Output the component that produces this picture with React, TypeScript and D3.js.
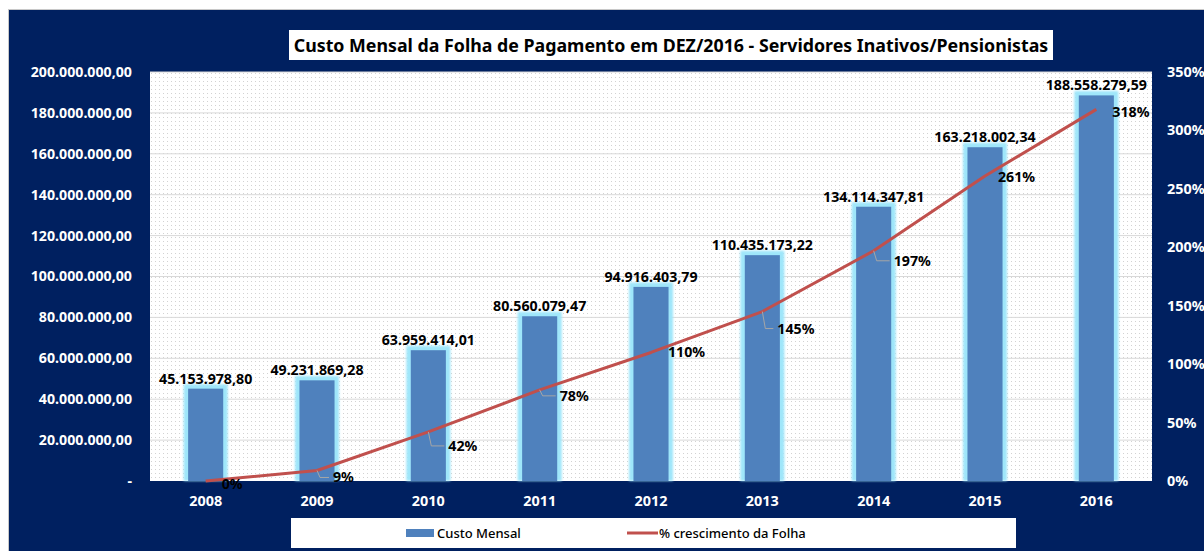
import React from "react";
import * as d3 from "d3";

const years = ["2008", "2009", "2010", "2011", "2012", "2013", "2014", "2015", "2016"];
const custoMensal = [
  45153978.8, 49231869.28, 63959414.01, 80560079.47, 94916403.79,
  110435173.22, 134114347.81, 163218002.34, 188558279.59,
];
const crescimento = [0, 0.09, 0.42, 0.78, 1.1, 1.45, 1.97, 2.61, 3.18];
const leftTicks = [0, 20e6, 40e6, 60e6, 80e6, 100e6, 120e6, 140e6, 160e6, 180e6, 200e6];
const rightTicks = [0, 0.5, 1, 1.5, 2, 2.5, 3, 3.5];
const title = "Custo Mensal da Folha de Pagamento em DEZ/2016 - Servidores Inativos/Pensionistas";
const legendBar = "Custo Mensal";
const legendLine = "% crescimento da Folha";

// label placement nudges (layout only)
const pctLabelNudge: [number, number, boolean][] = [
  [16, 3, false], [16, 7, true], [20, 14, true], [20, 6, true], [17, 0, false],
  [15, 17, true], [20, 10, true], [13, 1, false], [16, 3, false],
];

const NAVY = "#002060";
const FONT = "'Noto Sans', 'Open Sans', sans-serif";

const ptBR = d3.formatLocale({ decimal: ",", thousands: ".", grouping: [3], currency: ["R$", ""] });
const fmtMoney = ptBR.format(",.2f");
const fmtPct = d3.format(".0%");

export default function App() {
  const left = 150, right = 1152, top = 72, bottom = 481;
  const x = d3.scaleBand<string>().domain(years).range([left, right]).padding(0);
  const cx = (y: string) => (x(y) as number) + x.bandwidth() / 2;
  const barW = x.bandwidth() * 0.315;
  const yL = d3.scaleLinear().domain([0, 200e6]).range([bottom, top]);
  const yR = d3.scaleLinear().domain([0, 3.5]).range([bottom, top]);
  const line = d3
    .line<number>()
    .x((_, i) => cx(years[i]))
    .y((d) => yR(d))
    .curve(d3.curveLinear);

  return (
    <svg
      width={1204}
      height={551}
      style={{ position: "absolute", left: 0, top: 0, display: "block" }}
      fontFamily={FONT}
    >
      <defs>
        <pattern id="dots" width={4} height={4} patternUnits="userSpaceOnUse" x={left} y={top}>
          <rect width={4} height={4} fill="#ffffff" />
          <rect x={1} y={1} width={1} height={1} fill="#d2d2d2" />
        </pattern>
        <filter id="glow" x="-50%" y="-50%" width="200%" height="200%">
          <feGaussianBlur stdDeviation={1.2} />
        </filter>
      </defs>
      <rect x={0} y={0} width={1204} height={551} fill="#ffffff" />
      <rect x={8.5} y={9.5} width={1200} height={545} fill={NAVY} stroke="#c8c8c8" strokeWidth={1} />

      {/* title */}
      <rect x={289} y={30} width={764} height={30} fill="#ffffff" />
      <text x={671} y={52} textAnchor="middle" fontSize={17.8} fontWeight="bold" fill="#000">
        {title}
      </text>

      {/* plot area */}
      <rect x={left} y={top} width={right - left} height={bottom - top} fill="url(#dots)" />
      {leftTicks.slice(1).map((t) => (
        <line key={t} x1={left} x2={right} y1={yL(t)} y2={yL(t)} stroke="#d9d9d9" strokeWidth={1} />
      ))}

      {/* left axis labels */}
      {leftTicks.map((t) => (
        <text key={t} x={132} y={yL(t)} dy="0.35em" textAnchor="end" fontSize={14.2} fontWeight="bold" fill="#ffffff">
          {t === 0 ? "-" : fmtMoney(t)}
        </text>
      ))}
      {/* right axis labels */}
      {rightTicks.map((t) => (
        <text key={t} x={1167} y={yR(t)} dy="0.35em" textAnchor="start" fontSize={14.4} fontWeight="bold" fill="#ffffff">
          {fmtPct(t)}
        </text>
      ))}
      {/* x labels */}
      {years.map((yr) => (
        <text key={yr} x={cx(yr)} y={506} textAnchor="middle" fontSize={14.4} fontWeight="bold" fill="#ffffff">
          {yr}
        </text>
      ))}

      {/* bars */}
      {years.map((yr, i) => {
        const y0 = yL(custoMensal[i]);
        return (
          <g key={yr}>
            <rect
              x={cx(yr) - barW / 2 - 4.5}
              y={y0 - 4.5}
              width={barW + 9}
              height={bottom - y0 + 4.5}
              fill="#9fe6fa"
              filter="url(#glow)"
            />
            <rect x={cx(yr) - barW / 2} y={y0} width={barW} height={bottom - y0} fill="#4f81bd" />
          </g>
        );
      })}

      {/* bar labels */}
      {years.map((yr, i) => (
        <text key={yr} x={cx(yr)} y={yL(custoMensal[i]) - 5} textAnchor="middle" fontSize={14.2} fontWeight="bold" fill="#000">
          {fmtMoney(custoMensal[i])}
        </text>
      ))}

      {/* line */}
      <path d={line(crescimento) || ""} fill="none" stroke="#c0504d" strokeWidth={3} strokeLinejoin="round" />

      {/* pct labels + leaders */}
      {years.map((yr, i) => {
        const px = cx(yr), py = yR(crescimento[i]);
        const [dx, dy, leader] = pctLabelNudge[i];
        return (
          <g key={yr}>
            {leader && (
              <polyline
                points={`${px},${py} ${px + 3},${py + dy} ${px + dx - 4},${py + dy}`}
                fill="none"
                stroke="#a6a6a6"
                strokeWidth={1}
              />
            )}
            <text x={px + dx} y={py + dy} dy="0.35em" fontSize={14.2} fontWeight="bold" fill="#000">
              {fmtPct(crescimento[i])}
            </text>
          </g>
        );
      })}

      {/* legend */}
      <rect x={291} y={518} width={725} height={30} fill="#ffffff" />
      <rect x={406} y={529} width={28} height={8} fill="#4f81bd" />
      <text x={437} y={533} dy="0.35em" fontSize={13} fontWeight="500" fill="#000">
        {legendBar}
      </text>
      <line x1={627} x2={658} y1={533} y2={533} stroke="#c0504d" strokeWidth={3} />
      <text x={659} y={533} dy="0.35em" fontSize={13} fontWeight="500" fill="#000">
        {legendLine}
      </text>
    </svg>
  );
}
